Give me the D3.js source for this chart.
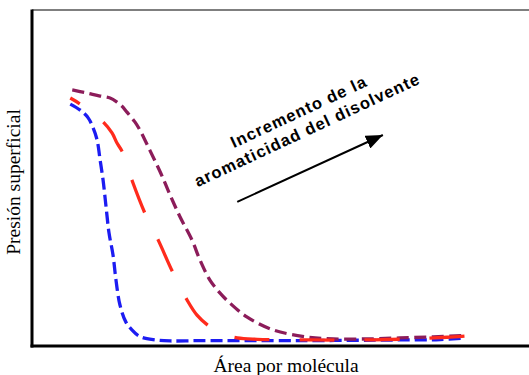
<!DOCTYPE html>
<html>
<head>
<meta charset="utf-8">
<script src="https://cdn.jsdelivr.net/npm/d3@7"></script>
<style>
  body { margin: 0; background: #fff; }
  svg { display: block; }
  .axis-title { font-family: 'Liberation Serif', 'Times New Roman', serif; font-size: 19.5px; fill: #000; }
  .note { font-family: 'Liberation Sans', Arial, sans-serif; font-size: 16.5px; font-weight: bold; letter-spacing: 1.1px; fill: #000; }
</style>
</head>
<body>
<div id="chart"></div>
<script>
// Isotermas: presion superficial vs area por molecula (unidades arbitrarias 0-100)
const areaPurple = [8.1, 10.7, 13.7, 15.7, 17.1, 18.1, 19.1, 20.7, 21.7, 23.7, 25.8, 27.8, 29.8, 32.2, 33.8, 35.8, 37.8, 39.8, 43.3, 48.5, 55.3, 60.6, 67.4, 74.0, 80.7, 87.1];
const presionPurple = [76.2, 75.4, 74.4, 73.8, 72.6, 71.4, 69.6, 66.7, 64.3, 58.3, 51.8, 44.9, 38.4, 31.5, 25.6, 19.6, 15.8, 12.8, 8.6, 4.8, 2.7, 2.1, 2.1, 2.4, 2.7, 3.1];

const areaRed = [7.7, 9.7, 12.1, 14.3, 16.1, 17.1, 18.1, 20.1, 22.7, 25.4, 28.4, 31.2, 33.2, 35.8, 38.2, 41.3, 45.3, 55.3, 66.0, 76.1, 83.5, 87.5];
const presionRed = [73.8, 72.0, 69.3, 66.7, 63.4, 60.4, 58.0, 49.4, 39.6, 31.5, 21.7, 13.7, 9.2, 5.7, 3.6, 2.4, 2.0, 1.8, 1.8, 2.1, 2.6, 3.0];

const areaBlue = [7.7, 9.7, 11.3, 12.3, 13.1, 13.7, 14.3, 14.9, 15.5, 16.3, 16.9, 17.7, 18.9, 20.1, 21.7, 24.8, 27.8, 33.8, 53.9, 74.0, 82.1, 87.1];
const presionBlue = [72.0, 70.2, 67.9, 64.9, 61.3, 55.4, 49.4, 41.4, 33.6, 27.1, 19.6, 12.2, 7.1, 4.8, 2.8, 1.8, 1.5, 1.6, 1.6, 1.8, 1.9, 2.4];

const arrowFrom = [41.3, 42.9];
const arrowTo = [70.6, 62.8];
const noteAt = [55.0, 65.5];
const noteLines = ['Incremento de la', 'aromaticidad del disolvente'];

const width = 529;
const height = 375;
const margin = { top: 10, right: 0, bottom: 29, left: 32 };

let svg = d3.select('#chart').append('svg')
  .attr('width', width)
  .attr('height', height);

let x = d3.scaleLinear().domain([0, 100]).range([margin.left, width - margin.right]);
let y = d3.scaleLinear().domain([0, 100]).range([height - margin.bottom, margin.top]);

// frame: thin top line, heavy left and bottom axes
svg.append('line')
  .attr('x1', x(0)).attr('x2', x(100))
  .attr('y1', y(100)).attr('y2', y(100))
  .style('stroke', '#555').style('stroke-width', 1.3);

svg.append('line')
  .attr('x1', x(0)).attr('x2', x(0))
  .attr('y1', y(100) - 0.6).attr('y2', y(0) + 1.5)
  .style('stroke', '#000').style('stroke-width', 3);

svg.append('line')
  .attr('x1', x(0) - 1.5).attr('x2', x(100))
  .attr('y1', y(0)).attr('y2', y(0))
  .style('stroke', '#000').style('stroke-width', 3);

let series = [
  { xs: areaBlue, ys: presionBlue, color: '#1c1cf2', dash: '12,5', offset: 0 },
  { xs: areaPurple, ys: presionPurple, color: '#8c1c5a', dash: '12,5.5', offset: 0 },
  { xs: areaRed, ys: presionRed, color: '#ff2b1c', dash: '35,30', offset: 24 }
];

let line = d3.line()
  .x(d => x(d[0]))
  .y(d => y(d[1]))
  .curve(d3.curveCatmullRom.alpha(0.5));

svg.append('g')
  .attr('class', 'data')
  .selectAll('path')
  .data(series)
  .enter().append('path')
    .attr('d', d => line(d3.zip(d.xs, d.ys)))
    .style('fill', 'none')
    .style('stroke', d => d.color)
    .style('stroke-width', 3.3)
    .style('stroke-dasharray', d => d.dash)
    .style('stroke-dashoffset', d => d.offset);

// arrow
svg.append('defs').append('marker')
  .attr('id', 'head')
  .attr('markerUnits', 'userSpaceOnUse')
  .attr('viewBox', '0 0 17 14')
  .attr('refX', 17).attr('refY', 7)
  .attr('markerWidth', 17).attr('markerHeight', 14)
  .attr('orient', 'auto')
  .append('path')
    .attr('d', 'M0,0L17,7L0,14Z')
    .style('fill', '#000');

svg.append('line')
  .attr('x1', x(arrowFrom[0])).attr('y1', y(arrowFrom[1]))
  .attr('x2', x(arrowTo[0])).attr('y2', y(arrowTo[1]))
  .style('stroke', '#000').style('stroke-width', 2)
  .attr('marker-end', 'url(#head)');

let note = svg.append('g')
  .attr('transform', 'translate(' + x(noteAt[0]) + ',' + y(noteAt[1]) + ') rotate(-25)');

note.selectAll('text')
  .data(noteLines)
  .enter().append('text')
    .attr('class', 'note')
    .attr('text-anchor', 'middle')
    .attr('y', (d, i) => (i - 0.5) * 20)
    .text(d => d);

// axis titles
svg.append('text')
  .attr('class', 'axis-title')
  .attr('text-anchor', 'middle')
  .attr('transform', 'translate(20,' + ((y(0) + y(100)) / 2 + 4) + ') rotate(-90)')
  .text('Presión superficial');

svg.append('text')
  .attr('class', 'axis-title')
  .attr('text-anchor', 'middle')
  .attr('x', 286)
  .attr('y', 372)
  .text('Área por molécula');
</script>
</body>
</html>
